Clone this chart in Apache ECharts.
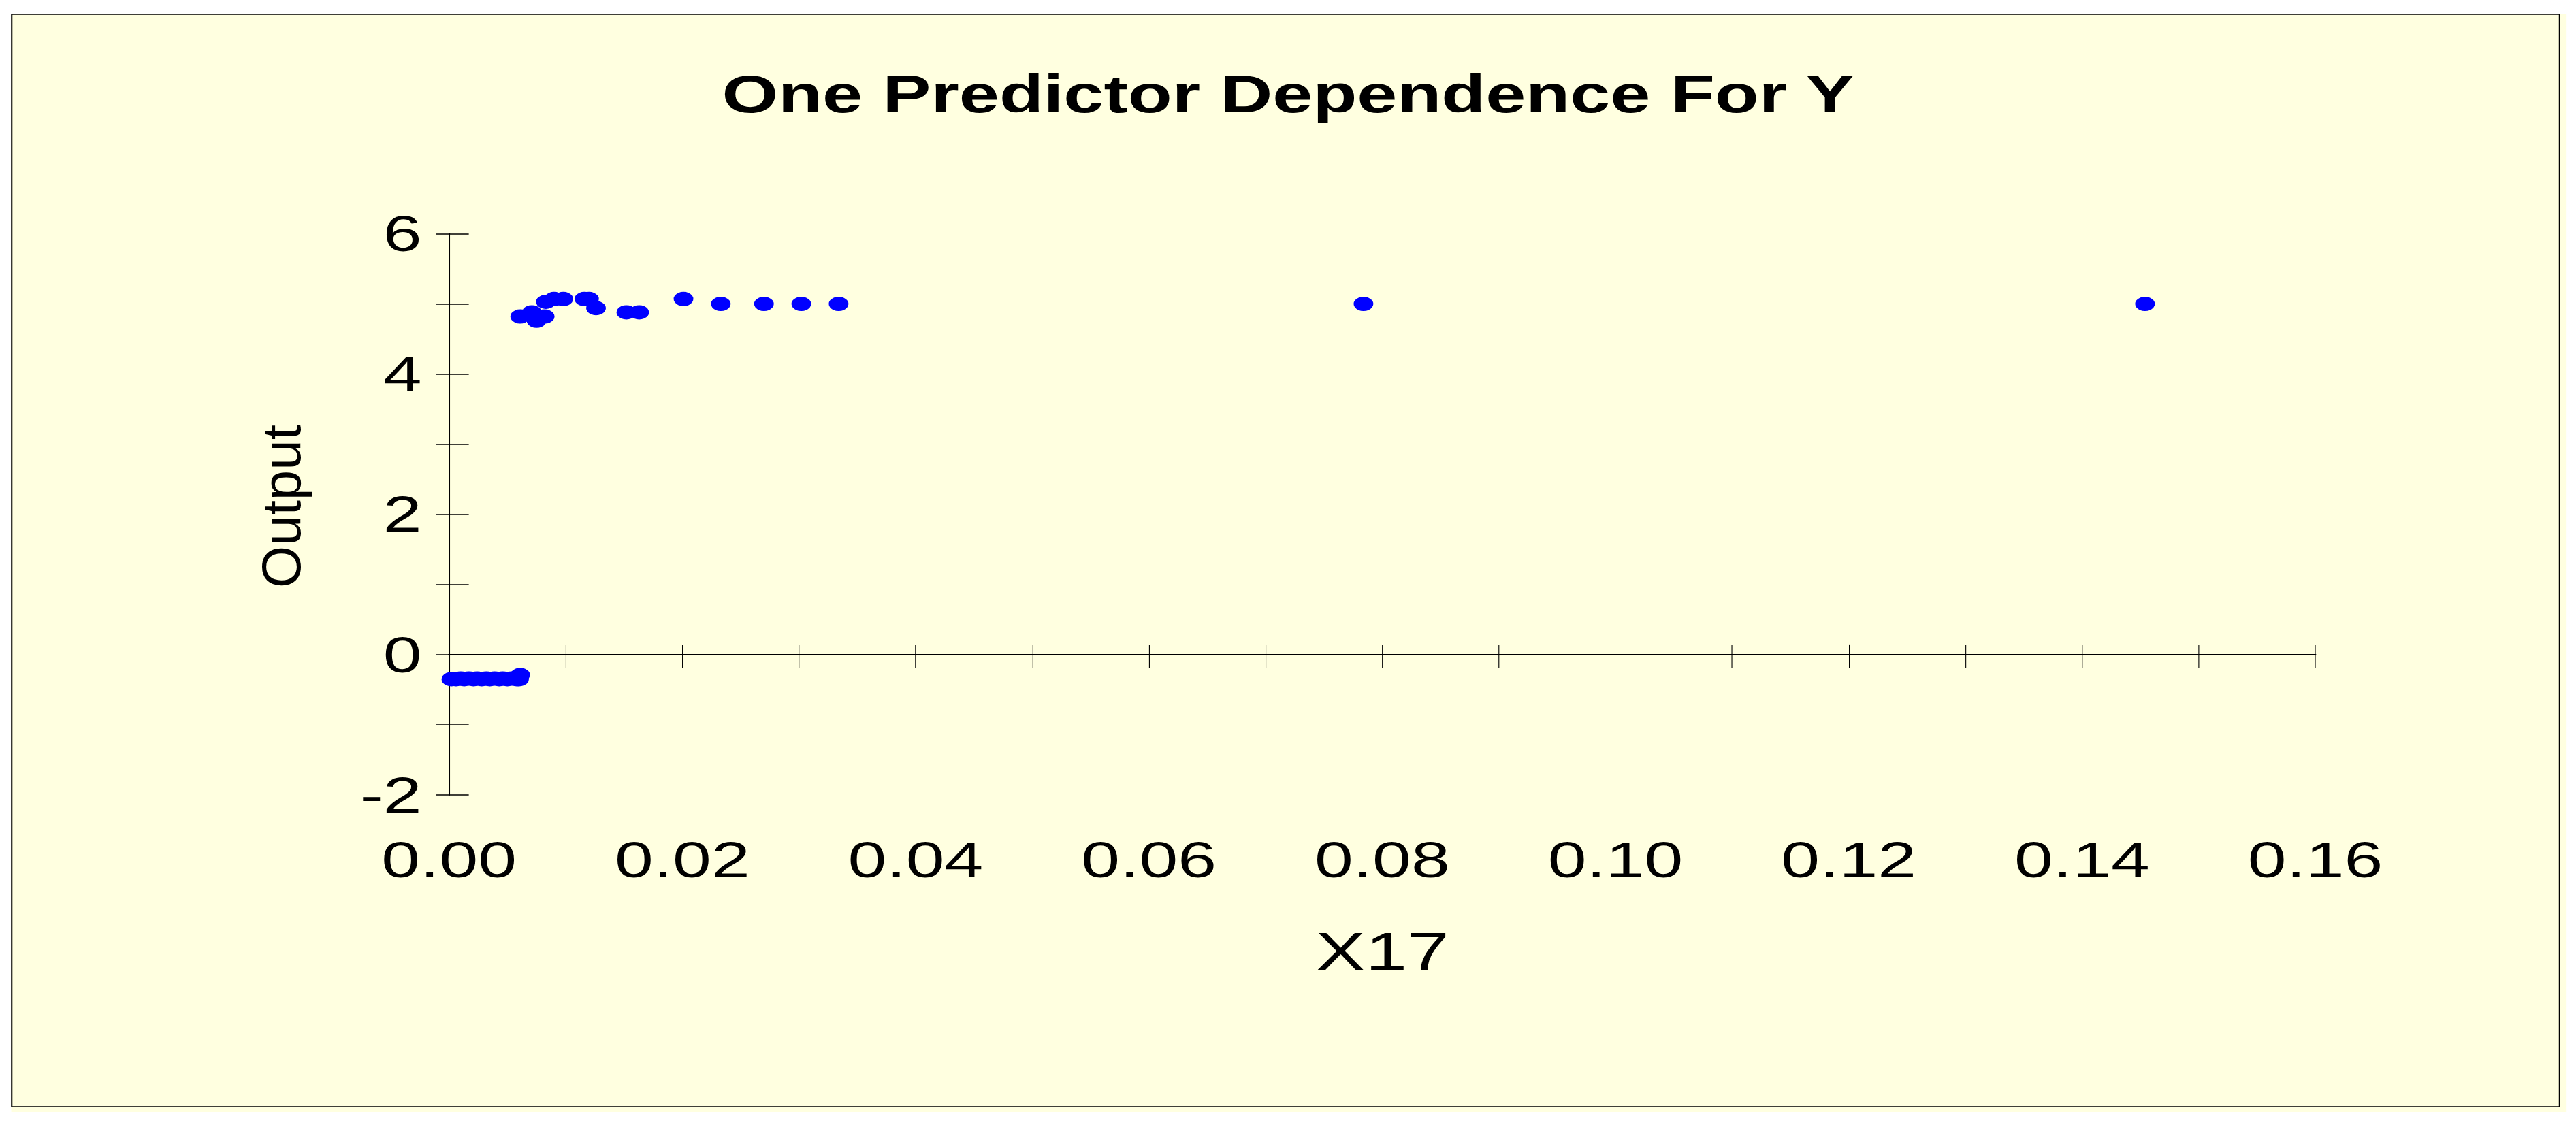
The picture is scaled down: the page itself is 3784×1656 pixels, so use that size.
<!DOCTYPE html>
<html>
<head>
<meta charset="utf-8">
<script src="https://cdn.jsdelivr.net/npm/echarts@6/dist/echarts.min.js"></script>
<style>
  html, body { margin: 0; padding: 0; background: #fff; overflow: hidden; }
  /* the source picture is stretched sideways: draw narrow, then widen */
  #chart { width: 2742px; height: 1656px; transform: scaleX(1.38); transform-origin: 0 0; }
</style>
</head>
<body>
<div id="chart"></div>
<script>
const x17Values = [
  0.0002, 0.0006, 0.0010, 0.0013, 0.0017, 0.0021, 0.0024, 0.0028, 0.0032,
  0.0035, 0.0039, 0.0043, 0.0046, 0.0050, 0.0054, 0.0058, 0.0060, 0.0061,
  0.0061, 0.0071, 0.0075, 0.0082, 0.0083, 0.0090, 0.0098, 0.0116, 0.0120,
  0.0126, 0.0152, 0.0163, 0.0201, 0.0233, 0.0270, 0.0302, 0.0334, 0.0784, 0.1454
]
const outputValues = [
  -0.35, -0.35, -0.34, -0.35, -0.34, -0.35, -0.34, -0.35, -0.34,
  -0.35, -0.34, -0.35, -0.34, -0.35, -0.34, -0.35, -0.35, -0.29,
  4.82, 4.88, 4.76, 4.82, 5.03, 5.07, 5.07, 5.07, 5.07,
  4.94, 4.88, 4.88, 5.07, 5.00, 5.00, 5.00, 5.00, 5.00, 5.00
]
// tick at 0.10 is missing in the source
const xTickValues = [0.01, 0.02, 0.03, 0.04, 0.05, 0.06, 0.07, 0.08, 0.09, 0.11, 0.12, 0.13, 0.14, 0.15, 0.16]
const yLabelValues = [-2, 0, 2, 4, 6]

const font = 'Liberation Sans, Arial, sans-serif'
const chart = echarts.init(document.getElementById('chart'), null, { renderer: 'svg' })

const xBase = {
  type: 'value',
  position: 'bottom',
  min: 0,
  max: 0.16,
  splitLine: { show: false },
  axisLabel: { show: false }
}
const yBase = {
  type: 'value',
  position: 'left',
  min: -2,
  max: 6,
  interval: 1,
  splitLine: { show: false },
  axisLine: { show: true, lineStyle: { color: '#000', width: 1 } },
  axisLabel: { show: false }
}

chart.setOption({
  animation: false,
  backgroundColor: 'transparent',
  textStyle: { fontFamily: font, color: '#000' },
  title: {
    text: 'One Predictor Dependence For Y',
    left: 'center',
    top: 95,
    textStyle: { fontSize: 77, fontWeight: 'bold', color: '#000', fontFamily: font }
  },
  graphic: [
    {
      type: 'rect', z: -10, silent: true,
      shape: { x: 12, y: 21, width: 2720, height: 1613 },
      style: { fill: '#FFFFE0' }
    },
    {
      type: 'rect', z: -9, silent: true,
      shape: { x: 12.5, y: 21, width: 2712, height: 1605 },
      style: { fill: 'none', stroke: '#000', lineWidth: 1.5 }
    },
    {
      type: 'text', silent: true,
      x: 299, y: 744, rotation: Math.PI / 2, scaleY: 0.73,
      style: {
        text: 'Output', fontSize: 80, fontFamily: font, fill: '#000',
        align: 'center', verticalAlign: 'middle'
      }
    }
  ],
  grid: { left: 478, right: 277.5, top: 343.5, bottom: 488, containLabel: false, outerBoundsMode: 'none' },
  xAxis: [
    Object.assign({}, xBase, {
      axisLine: { show: true, onZero: true, onZeroAxisIndex: 0, lineStyle: { color: '#000', width: 2 } },
      axisTick: { show: true, inside: false, length: 20, customValues: xTickValues, lineStyle: { color: '#000', width: 0.8 } }
    }),
    Object.assign({}, xBase, {
      axisLine: { show: true, onZero: true, onZeroAxisIndex: 0, lineStyle: { color: '#000', width: 2 } },
      axisTick: { show: true, inside: true, length: 14, customValues: xTickValues, lineStyle: { color: '#000', width: 0.8 } }
    }),
    {
      type: 'value',
      position: 'bottom',
      min: 0,
      max: 0.16,
      interval: 0.02,
      name: 'X17',
      nameLocation: 'middle',
      nameGap: 190,
      nameTextStyle: { fontSize: 80, color: '#000', fontFamily: font },
      splitLine: { show: false },
      axisLine: { show: false, onZero: false },
      axisTick: { show: false },
      axisLabel: {
        show: true, margin: 58, fontSize: 74, color: '#000', fontFamily: font,
        formatter: v => v.toFixed(2)
      }
    }
  ],
  yAxis: [
    Object.assign({}, yBase, {
      axisTick: { show: true, inside: false, length: 13.5, lineStyle: { color: '#000', width: 1.5 } },
      axisLabel: { show: true, customValues: yLabelValues, margin: 29, fontSize: 74, color: '#000', fontFamily: font }
    }),
    Object.assign({}, yBase, {
      axisTick: { show: true, inside: true, length: 21, lineStyle: { color: '#000', width: 1.5 } }
    })
  ],
  series: [
    {
      type: 'scatter',
      xAxisIndex: 0,
      yAxisIndex: 0,
      symbol: 'circle',
      symbolSize: 21,
      itemStyle: { color: '#0000FF', opacity: 1 },
      data: x17Values.map((x, i) => [x, outputValues[i]])
    }
  ]
})
</script>
</body>
</html>
